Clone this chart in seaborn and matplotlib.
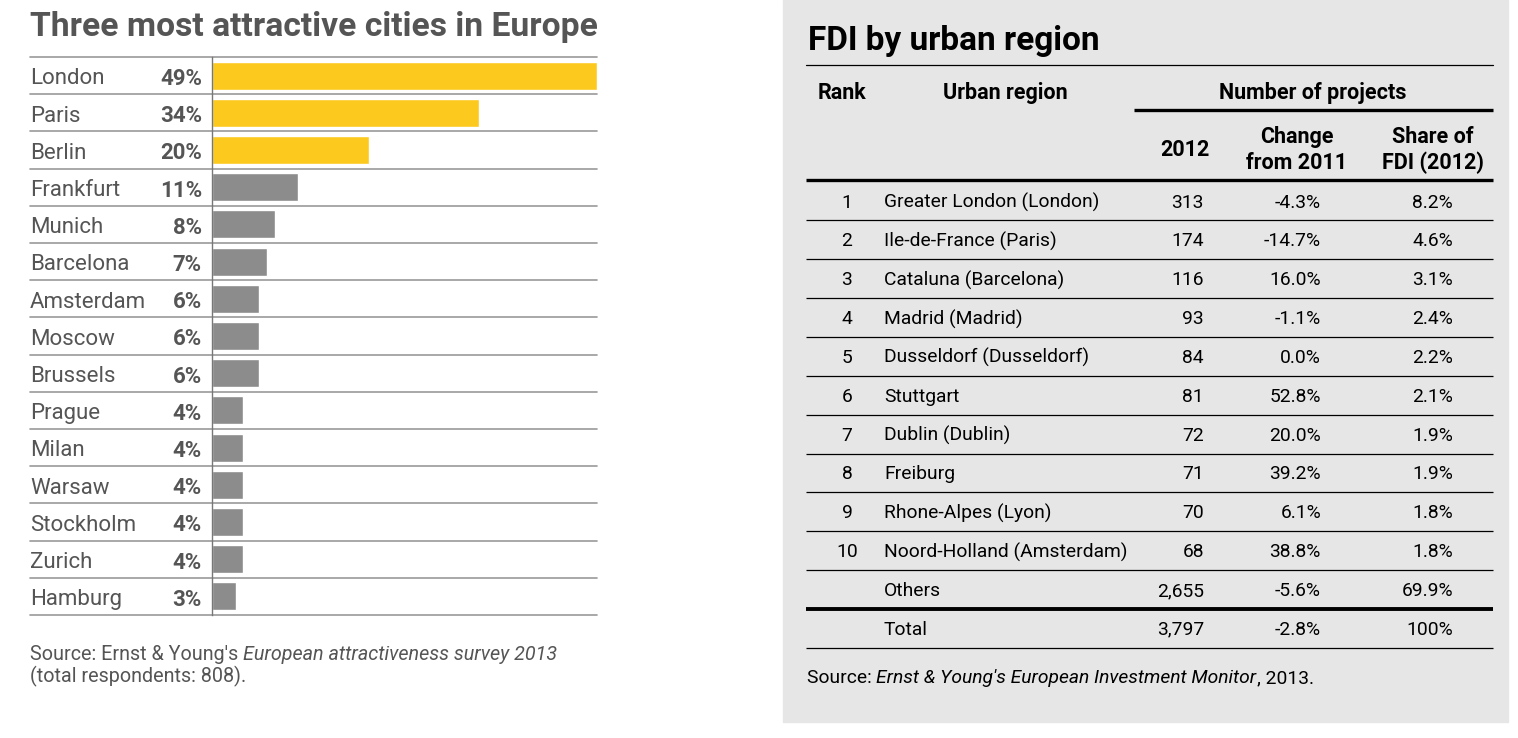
import numpy as np
import pandas as pd
import matplotlib
matplotlib.use('Agg')
import matplotlib.pyplot as plt
import seaborn as sns
from matplotlib.patches import Rectangle

# left chart data
cities = ['London', 'Paris', 'Berlin', 'Frankfurt', 'Munich', 'Barcelona', 'Amsterdam',
          'Moscow', 'Brussels', 'Prague', 'Milan', 'Warsaw', 'Stockholm', 'Zurich', 'Hamburg']
share = [49, 34, 20, 11, 8, 7, 6, 6, 6, 4, 4, 4, 4, 4, 3]
top_three = 3

# right table data
ranks = ['1', '2', '3', '4', '5', '6', '7', '8', '9', '10', '', '']
regions = ['Greater London (London)', 'Ile-de-France (Paris)', 'Cataluna (Barcelona)',
           'Madrid (Madrid)', 'Dusseldorf (Dusseldorf)', 'Stuttgart', 'Dublin (Dublin)',
           'Freiburg', 'Rhone-Alpes (Lyon)', 'Noord-Holland (Amsterdam)', 'Others', 'Total']
projects = ['313', '174', '116', '93', '84', '81', '72', '71', '70', '68', '2,655', '3,797']
change = ['-4.3%', '-14.7%', '16.0%', '-1.1%', '0.0%', '52.8%', '20.0%', '39.2%',
          '6.1%', '38.8%', '-5.6%', '-2.8%']
share_fdi = ['8.2%', '4.6%', '3.1%', '2.4%', '2.2%', '2.1%', '1.9%', '1.9%',
             '1.8%', '1.8%', '69.9%', '100%']

sns.set_theme(style="white")
plt.rcParams['font.family'] = ['Roboto', 'DejaVu Sans']

W, H = 1518, 738
fig = plt.figure(figsize=(W / 100, H / 100), dpi=100)
fig.patch.set_facecolor('white')

TXT = '#555555'
YELLOW = '#fcc91e'
GREY = '#8c8c8c'
LINE = '#999999'

# ---------- left: bar chart ----------
x0, x1, y0, y1 = 212, 597, 57, 615
ax = fig.add_axes([x0 / W, 1 - y1 / H, (x1 - x0) / W, (y1 - y0) / H])
df = pd.DataFrame({'city': cities, 'share': share})
colors = [YELLOW if i < top_three else GREY for i in range(len(cities))]
sns.barplot(data=df, x='share', y='city', hue='city', palette=colors,
            legend=False, width=0.75, ax=ax, saturation=1)
ax.set_xlim(0, max(share))
ax.set_ylim(len(cities) - 0.5, -0.5)
ax.set_xlabel('')
ax.set_ylabel('')
ax.set_xticks([])
ax.set_yticks([])
for s in ['top', 'right', 'bottom']:
    ax.spines[s].set_visible(False)
ax.spines['left'].set_color('#777777')
ax.spines['left'].set_linewidth(1)

left_ext = (30 - x0) / (x1 - x0)
for k in range(len(cities) + 1):
    ax.axhline(k - 0.5, xmin=left_ext, xmax=1, color=LINE, lw=1.2, clip_on=False, zorder=0)

trans = ax.get_yaxis_transform()
for i, (c, v) in enumerate(zip(cities, share)):
    ax.text(left_ext, i + 0.09, c, transform=trans, ha='left', va='center', fontsize=16, color=TXT)
    ax.text((202 - x0) / (x1 - x0), i + 0.09, f'{v}%', transform=trans, ha='right', va='center',
            fontsize=16, color=TXT, fontweight='bold')

fig.text(30 / W, 1 - 27 / H, 'Three most attractive cities in Europe', ha='left', va='center',
         fontsize=24.2, fontweight='bold', color=TXT)
t0 = fig.text(30 / W, 1 - 654 / H, "Source: Ernst & Young's ", ha='left', va='center',
              fontsize=14.2, color=TXT)
fig.text(30 / W, 1 - 676 / H, '(total respondents: 808).', ha='left', va='center',
         fontsize=14.2, color=TXT)
fig.canvas.draw()
r = fig.canvas.get_renderer()
bb = t0.get_window_extent(r)
fig.text(bb.x1 / W, 1 - 654 / H, 'European attractiveness survey 2013', ha='left', va='center',
         fontsize=14.2, color=TXT, style='italic')

# ---------- right: table ----------
tx = fig.add_axes([0, 0, 1, 1])
tx.set_xlim(0, W)
tx.set_ylim(H, 0)
tx.axis('off')
tx.patch.set_alpha(0)
tx.add_patch(Rectangle((783, 0), 1508 - 783, 722, color='#e6e6e6', zorder=0))

tx.text(808, 41, 'FDI by urban region', ha='left', va='center', fontsize=24,
        fontweight='bold', color='black')
L, R = 806, 1493
tx.plot([L, R], [65, 65], color='black', lw=0.9)
hdr = dict(fontsize=15.5, fontweight='bold', color='black', va='center')
tx.text(842, 93, 'Rank', ha='center', **hdr)
tx.text(1005, 93, 'Urban region', ha='center', **hdr)
tx.text(1313, 93, 'Number of projects', ha='center', **hdr)
tx.plot([1134, R], [110, 110], color='black', lw=2.4, solid_capstyle='butt')
tx.text(1185, 150, '2012', ha='center', **hdr)
tx.text(1297, 150, 'Change\nfrom 2011', ha='center', linespacing=1.2, **hdr)
tx.text(1433, 150, 'Share of\nFDI (2012)', ha='center', linespacing=1.2, **hdr)
tx.plot([L, R], [180, 180], color='black', lw=2.4, solid_capstyle='butt')

row0, dy = 201, 38.85
cell = dict(fontsize=13.9, color='black', va='center')
for i in range(len(regions)):
    y = row0 + i * dy
    ty = y + 1.5
    tx.text(847, ty, ranks[i], ha='center', **cell)
    tx.text(884, ty, regions[i], ha='left', **cell)
    tx.text(1204, ty, projects[i], ha='right', **cell)
    tx.text(1321, ty, change[i], ha='right', **cell)
    tx.text(1453, ty, share_fdi[i], ha='right', **cell)
    lw = 2.8 if i == len(regions) - 2 else 0.9
    tx.plot([L, R], [y + dy / 2, y + dy / 2], color='black', lw=lw, solid_capstyle='butt')

s1 = tx.text(807, 678, 'Source: ', ha='left', va='center', fontsize=13.9, color='black')
fig.canvas.draw()
bb1 = s1.get_window_extent(r)
s2 = fig.text(bb1.x1 / W, 1 - 678 / H, "Ernst & Young's European Investment Monitor",
              ha='left', va='center', fontsize=13.9, color='black', style='italic')
fig.canvas.draw()
bb2 = s2.get_window_extent(r)
fig.text(bb2.x1 / W, 1 - 678 / H, ', 2013.', ha='left', va='center', fontsize=13.9, color='black')

fig.savefig('out.png', dpi=100)
